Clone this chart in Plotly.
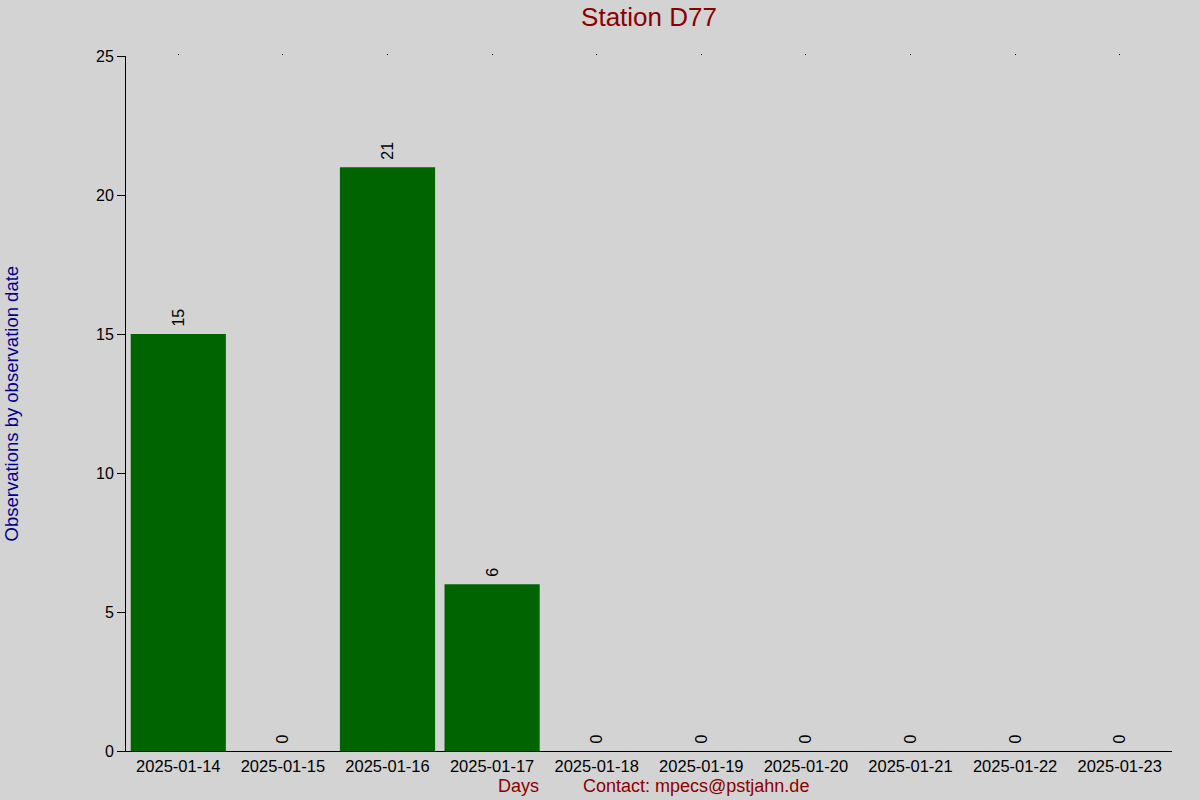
import plotly.graph_objects as go

# observations per day for station D77
days = ["2025-01-14", "2025-01-15", "2025-01-16", "2025-01-17", "2025-01-18",
        "2025-01-19", "2025-01-20", "2025-01-21", "2025-01-22", "2025-01-23"]
counts = [15, 0, 21, 6, 0, 0, 0, 0, 0, 0]
y_ticks = [0, 5, 10, 15, 20, 25]

BG = "#d3d3d3"
FONT = "Liberation Sans, Arial, sans-serif"

fig = go.Figure()

fig.add_trace(go.Bar(
    x=days, y=counts,
    marker_color="#006400", marker_line_width=0,
    width=0.91,
    text=counts, texttemplate="&nbsp;%{text}",
    textposition="outside", textangle=-90,
    textfont=dict(size=16, color="black", family=FONT),
    cliponaxis=False,
    showlegend=False,
))

# invisible trace so the small tick dots along the top edge get drawn
fig.add_trace(go.Scatter(x=days, y=counts, xaxis="x2", mode="markers",
                         marker=dict(opacity=0), showlegend=False, hoverinfo="skip"))

fig.update_layout(
    width=1200, height=800,
    paper_bgcolor=BG, plot_bgcolor=BG,
    margin=dict(l=126, r=28, t=56, b=49),
    font=dict(family=FONT, size=16, color="black"),
    title=dict(text="Station D77", x=0.5, xref="paper", y=0.979, yanchor="middle",
               font=dict(size=26, color="#8b0000", family=FONT)),
    bargap=0.09,
    xaxis=dict(type="category", categoryorder="array", categoryarray=days,
               range=[-0.5, 9.5], showline=True, linecolor="black", linewidth=1,
               ticks="", showgrid=False, zeroline=False,
               tickfont=dict(size=16.5, color="black")),
    xaxis2=dict(type="category", categoryorder="array", categoryarray=days,
                range=[-0.5, 9.5], overlaying="x", side="top", showline=False,
                ticks="outside", ticklen=1, tickcolor="black", showticklabels=False,
                showgrid=False, zeroline=False),
    yaxis=dict(range=[0, 25], tickvals=y_ticks, showline=True, linecolor="black",
               linewidth=1, ticks="outside", ticklen=8, tickcolor="black",
               showgrid=False, zeroline=False,
               tickfont=dict(size=16, color="black")),
    annotations=[
        dict(text="Observations by observation date", xref="paper", yref="paper",
             x=-0.109, y=0.5, xanchor="center", yanchor="middle", textangle=-90,
             showarrow=False, font=dict(size=18.5, color="#00008b", family=FONT)),
        dict(text="Days", xref="paper", yref="paper", x=0.375, y=0,
             yshift=-35, xanchor="center", yanchor="middle", showarrow=False,
             font=dict(size=18, color="#8b0000", family=FONT)),
        dict(text="Contact: mpecs@pstjahn.de", xref="paper", yref="paper",
             x=0.5445, y=0, yshift=-35, xanchor="center", yanchor="middle",
             showarrow=False, font=dict(size=18, color="#8b0000", family=FONT)),
    ],
)

# drop the default page margin so the chart sits at the window's corner
fig.write_html("out.html", config={"displayModeBar": False},
               post_script="document.body.style.margin='0';")
